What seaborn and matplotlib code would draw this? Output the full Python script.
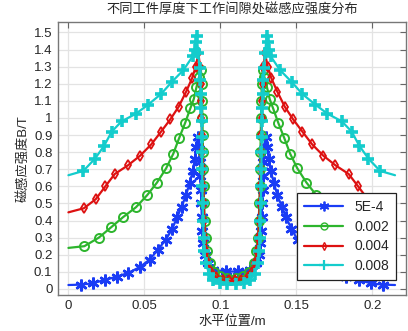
import seaborn as sns
import matplotlib
matplotlib.use("Agg")
import matplotlib.pyplot as plt
from matplotlib.ticker import FuncFormatter

# data (x in m, B in T)
x_5e4 = [0, 0.008, 0.016, 0.024, 0.032, 0.0395, 0.047, 0.0535, 0.0588, 0.064, 0.0683, 0.0715,
         0.0745, 0.0775, 0.0798, 0.0818, 0.0832, 0.0842, 0.0852, 0.086, 0.0866, 0.0869, 0.0872,
         0.0875, 0.0878, 0.0882, 0.0888, 0.0898, 0.0918, 0.0955, 0.1035,
         0.1115, 0.1195, 0.1232, 0.1252, 0.1262, 0.1268, 0.1272, 0.1275, 0.1278, 0.1281, 0.1284,
         0.129, 0.1298, 0.1308, 0.1318, 0.1332, 0.1352, 0.1375, 0.1405, 0.1435, 0.1467, 0.151,
         0.1562, 0.1615, 0.168, 0.1755, 0.183, 0.191, 0.199, 0.207, 0.215]
b_5e4 = [0.023, 0.025, 0.033, 0.053, 0.072, 0.094, 0.128, 0.172, 0.228, 0.287, 0.35, 0.418,
         0.48, 0.55, 0.62, 0.69, 0.76, 0.83, 0.89, 0.82, 0.74, 0.66, 0.58,
         0.50, 0.42, 0.34, 0.27, 0.20, 0.15, 0.112, 0.102,
         0.102, 0.112, 0.15, 0.20, 0.27, 0.34, 0.42, 0.50, 0.58, 0.66, 0.74,
         0.82, 0.89, 0.83, 0.76, 0.69, 0.62, 0.55, 0.48, 0.418, 0.35, 0.287,
         0.228, 0.172, 0.128, 0.094, 0.072, 0.053, 0.033, 0.025, 0.023]

x_002 = [0, 0.0105, 0.02, 0.0283, 0.036, 0.0445, 0.0518, 0.0583, 0.0643, 0.069, 0.0728, 0.0768,
         0.0803, 0.0825, 0.0843, 0.086, 0.0872, 0.0877, 0.088, 0.0882, 0.0884, 0.0886, 0.0888,
         0.089, 0.0893, 0.0897, 0.0903, 0.0913, 0.093, 0.0958, 0.1, 0.1045,
         0.1105, 0.115, 0.1192, 0.122, 0.1237, 0.1247, 0.1253, 0.1257, 0.126, 0.1262, 0.1264,
         0.1266, 0.1268, 0.127, 0.1273, 0.1278, 0.129, 0.1307, 0.1325, 0.1347, 0.1382, 0.1422,
         0.146, 0.1507, 0.1567, 0.1632, 0.1705, 0.179, 0.1867, 0.195, 0.2045, 0.215]
b_002 = [0.24, 0.25, 0.30, 0.362, 0.42, 0.478, 0.548, 0.622, 0.705, 0.79, 0.88, 0.97,
         1.057, 1.11, 1.18, 1.24, 1.28, 1.2, 1.1, 1.0, 0.9, 0.8, 0.7,
         0.6, 0.5, 0.4, 0.3, 0.22, 0.15, 0.10, 0.075, 0.065,
         0.065, 0.075, 0.10, 0.15, 0.22, 0.3, 0.4, 0.5, 0.6, 0.7, 0.8,
         0.9, 1.0, 1.1, 1.2, 1.28, 1.24, 1.18, 1.11, 1.057, 0.97, 0.88,
         0.79, 0.705, 0.622, 0.548, 0.478, 0.42, 0.362, 0.30, 0.25, 0.24]

x_004 = [0, 0.0102, 0.018, 0.0243, 0.0305, 0.0392, 0.0473, 0.0546, 0.061, 0.0671, 0.0726, 0.0775,
         0.0814, 0.0838, 0.0856, 0.0866, 0.087, 0.0873, 0.0876, 0.0879, 0.0882, 0.0885, 0.0888,
         0.0891, 0.0895, 0.09, 0.0908, 0.092, 0.094, 0.097, 0.1015, 0.1055,
         0.1095, 0.1135, 0.118, 0.121, 0.123, 0.1242, 0.125, 0.1255, 0.1259, 0.1262, 0.1265,
         0.1268, 0.1271, 0.1274, 0.1277, 0.128, 0.1284, 0.1294, 0.1312, 0.1336, 0.1375, 0.1424,
         0.1479, 0.154, 0.1604, 0.1677, 0.1758, 0.1845, 0.1907, 0.197, 0.2048, 0.215]
b_004 = [0.448, 0.472, 0.525, 0.60, 0.672, 0.723, 0.78, 0.846, 0.92, 0.992, 1.066, 1.154,
         1.232, 1.30, 1.378, 1.3, 1.2, 1.1, 1.0, 0.9, 0.8, 0.7, 0.6,
         0.5, 0.4, 0.3, 0.22, 0.15, 0.10, 0.07, 0.055, 0.05,
         0.05, 0.055, 0.07, 0.10, 0.15, 0.22, 0.3, 0.4, 0.5, 0.6, 0.7,
         0.8, 0.9, 1.0, 1.1, 1.2, 1.3, 1.378, 1.30, 1.232, 1.154, 1.066,
         0.992, 0.92, 0.846, 0.78, 0.723, 0.672, 0.60, 0.525, 0.472, 0.448]

x_008 = [0, 0.0098, 0.0175, 0.0235, 0.0285, 0.035, 0.0445, 0.0525, 0.061, 0.068, 0.0757, 0.0818,
         0.083, 0.0838, 0.0845, 0.0855, 0.0863, 0.0868, 0.0872, 0.0875, 0.0877, 0.0878, 0.0879,
         0.088, 0.0882, 0.0884, 0.0887, 0.089, 0.0895, 0.0905, 0.0925, 0.0955, 0.0995, 0.1045,
         0.1105, 0.1155, 0.1195, 0.1225, 0.1245, 0.1255, 0.126, 0.1263, 0.1266, 0.1268, 0.127,
         0.1271, 0.1272, 0.1273, 0.1275, 0.1278, 0.1282, 0.1287, 0.1295, 0.1305, 0.1312, 0.132,
         0.1332, 0.1393, 0.147, 0.154, 0.1625, 0.1705, 0.18, 0.1865, 0.1915, 0.1975, 0.2052, 0.215]
b_008 = [0.665, 0.69, 0.762, 0.837, 0.92, 0.98, 1.025, 1.078, 1.14, 1.21, 1.28, 1.36,
         1.40, 1.445, 1.478, 1.38, 1.29, 1.22, 1.14, 1.06, 0.98, 0.89, 0.80,
         0.70, 0.60, 0.50, 0.40, 0.30, 0.22, 0.15, 0.09, 0.05, 0.033, 0.027,
         0.027, 0.033, 0.05, 0.09, 0.15, 0.22, 0.30, 0.40, 0.50, 0.60, 0.70,
         0.80, 0.89, 0.98, 1.06, 1.14, 1.22, 1.29, 1.38, 1.478, 1.445, 1.40,
         1.36, 1.28, 1.21, 1.14, 1.078, 1.025, 0.98, 0.92, 0.837, 0.762, 0.69, 0.665]

labels = ["5E-4", "0.002", "0.004", "0.008"]
xticks = [0, 0.05, 0.1, 0.15, 0.2]
yticks = [0, 0.1, 0.2, 0.3, 0.4, 0.5, 0.6, 0.7, 0.8, 0.9, 1.0, 1.1, 1.2, 1.3, 1.4, 1.5]

sns.set_style("whitegrid")
plt.rcParams['font.family'] = ['Liberation Sans', 'Noto Sans CJK SC']

fig = plt.figure(figsize=(4.08, 3.31), dpi=100)
ax = fig.add_axes([0.142, 0.109, 0.853, 0.825])

# name, x, y, colour, marker, size, edge width, legend size, legend edge width
styles = [
    (labels[0], x_5e4, b_5e4, "#1a3cf5", (6, 2, 0), 8.5, 1.8, 7, 1.3),
    (labels[1], x_002, b_002, "#2db52d", "o", 6.5, 1.4, 5, 1.0),
    (labels[2], x_004, b_004, "#dd1111", "d", 5, 1.3, 4, 1.0),
    (labels[3], x_008, b_008, "#14cccc", "+", 8, 2.6, 7, 1.6),
]
for name, xs, ys, col, mk, ms, mew, _, _ in styles:
    sns.lineplot(x=xs, y=ys, ax=ax, color=col, lw=1.6, marker=mk, ms=ms, mew=mew,
                 mec=col, mfc="none", markevery=slice(1, -1), sort=False,
                 estimator=None, label=name)

ax.set_xlim(-0.0069, 0.2222)
ax.set_ylim(-0.035, 1.562)
ax.set_xticks(xticks)
ax.set_yticks(yticks)
fmt = FuncFormatter(lambda v, p: "%g" % round(v, 3))
ax.xaxis.set_major_formatter(fmt)
ax.yaxis.set_major_formatter(fmt)
ax.tick_params(direction="in", top=True, right=True, length=4, width=0.8,
               color="#666666", labelsize=9.5, pad=4)
ax.grid(True, color="#e3e3e3", lw=0.9)
for s in ax.spines.values():
    s.set_color("#777777")
    s.set_linewidth(1.0)

ax.set_title("不同工件厚度下工作间隙处磁感应强度分布", fontsize=9.5, pad=6)
ax.set_xlabel("水平位置/m", fontsize=9.5, labelpad=2)
ax.set_ylabel("磁感应强度B/T", fontsize=9.5, labelpad=3)

leg = ax.legend(loc="lower right", bbox_to_anchor=(0.972, 0.055), fontsize=10,
                frameon=True, fancybox=False, edgecolor="#222222", framealpha=1,
                handlelength=2.8, borderpad=0.5, labelspacing=0.4, borderaxespad=0)
leg.get_frame().set_linewidth(0.9)
for h, st in zip(leg.legend_handles, styles):
    h.set_markersize(st[7])
    h.set_markeredgewidth(st[8])

fig.savefig("out.png", dpi=100)
